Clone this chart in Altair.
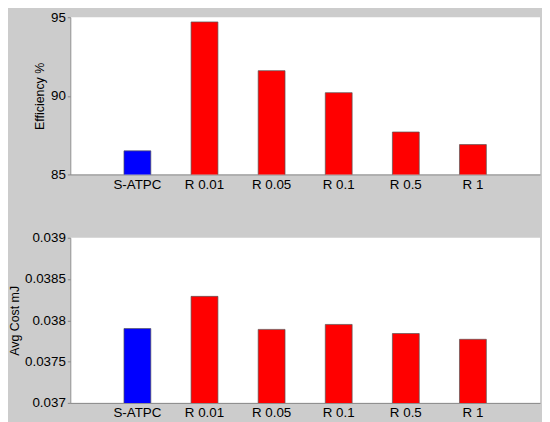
import altair as alt
import pandas as pd

methods = ["S-ATPC", "R 0.01", "R 0.05", "R 0.1", "R 0.5", "R 1"]
groups = ["S-ATPC", "R", "R", "R", "R", "R"]
efficiency = [86.5, 94.7, 91.6, 90.2, 87.7, 86.9]
avg_cost = [0.0379, 0.03829, 0.03789, 0.03795, 0.03784, 0.03777]
group_domain = ["S-ATPC", "R"]
group_colors = ["#0000ff", "#ff0000"]
eff_ticks = [85, 90, 95]
cost_ticks = [0.037, 0.0375, 0.038, 0.0385, 0.039]

df = pd.DataFrame({"method": methods, "group": groups,
                   "eff": efficiency, "cost": avg_cost})

FONT = "Liberation Sans"

x_enc = alt.X("method:N", sort=methods,
              scale=alt.Scale(paddingInner=0.6, paddingOuter=0.8),
              axis=alt.Axis(title=None, labelAngle=0, ticks=False, labelPadding=3))
color_enc = alt.Color("group:N",
                      scale=alt.Scale(domain=group_domain, range=group_colors),
                      legend=None)

top = alt.Chart(df).mark_bar(stroke="#555555", strokeWidth=0.7, clip=True).encode(
    x=x_enc,
    y=alt.Y("eff:Q", scale=alt.Scale(domain=[85, 95], nice=False, zero=False),
            axis=alt.Axis(title="Efficiency %", values=eff_ticks, grid=False,
                          tickSize=3, titlePadding=4)),
    color=color_enc,
).properties(width=475, height=159)

bottom = alt.Chart(df).mark_bar(stroke="#555555", strokeWidth=0.7, clip=True).encode(
    x=x_enc,
    y=alt.Y("cost:Q", scale=alt.Scale(domain=[0.037, 0.039], nice=False, zero=False),
            axis=alt.Axis(title="Avg Cost mJ", values=cost_ticks, grid=False,
                          tickSize=3, titlePadding=3, format="~g")),
    color=color_enc,
).properties(width=475, height=167)

chart = alt.vconcat(top, bottom, spacing=64).properties(
    bounds="flush",
    padding={"left": 0, "top": 0, "right": 2, "bottom": 0},
).configure(
    background="#cccccc",
).configure_view(
    fill="white", strokeWidth=0,
).configure_axis(
    labelFont=FONT, labelFontSize=13.5, labelColor="black",
    titleFont=FONT, titleFontSize=12.5, titleFontWeight="normal", titleColor="black",
    domainColor="#888888", tickColor="#888888", labelPadding=2,
)

chart.save("out.html", embed_options={"renderer": "svg", "actions": False})
